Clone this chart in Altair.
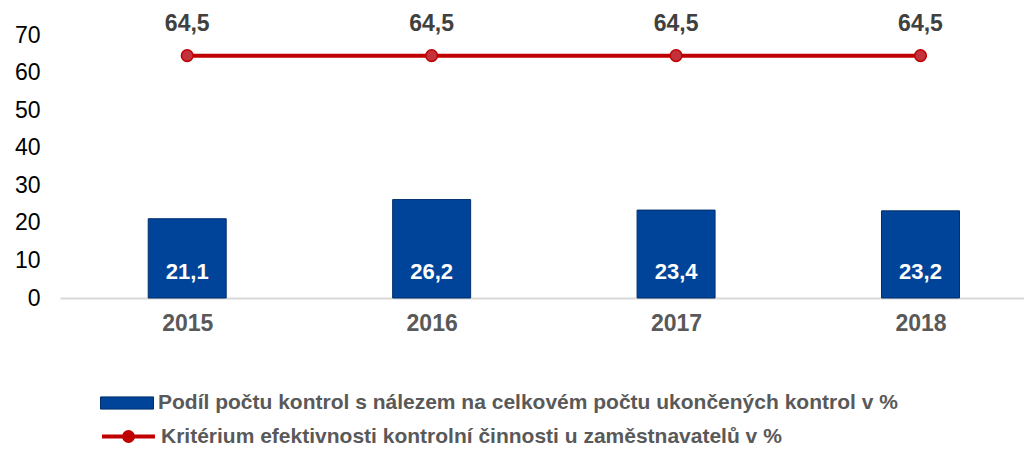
import altair as alt
import pandas as pd

years = [2015, 2016, 2017, 2018]
share = [21.1, 26.2, 23.4, 23.2]
criterion = [64.5, 64.5, 64.5, 64.5]
bar_label = "Podíl počtu kontrol s nálezem na celkovém počtu ukončených kontrol v %"
line_label = "Kritérium efektivnosti kontrolní činnosti u zaměstnavatelů v %"
y_ticks = [0, 10, 20, 30, 40, 50, 60, 70]

df = pd.DataFrame({"year": years, "share": share, "crit": criterion,
                   "s1": bar_label, "s2": line_label})

FONT = "Liberation Sans"
BLUE = "#00449A"
RED = "#C00000"

xscale = alt.Scale(domain=[2014.5, 2018.403], nice=False, zero=False)
xaxis = alt.Axis(values=years, format="d", title=None, grid=False, ticks=False,
                 domainColor="#D9D9D9", domainWidth=2, labelFontSize=23,
                 labelFontWeight="bold", labelColor="#595959", labelPadding=14,
                 labelOverlap=False, labelFlush=False, labelFont=FONT)
yscale = alt.Scale(domain=[0, 70], nice=False)
yaxis = alt.Axis(values=y_ticks, title=None, grid=False, ticks=False, domain=False,
                 labelFontSize=23, labelColor="#000000", labelPadding=20,
                 labelFont=FONT, minExtent=52, maxExtent=52)

X = alt.X("year:Q", scale=xscale, axis=xaxis)

bars = alt.Chart(df).mark_bar(size=78, stroke="#002F6C", strokeWidth=1).encode(
    x=X,
    y=alt.Y("share:Q", scale=yscale, axis=yaxis),
    fill=alt.Fill("s1:N", scale=alt.Scale(domain=[bar_label], range=[BLUE]),
                  legend=alt.Legend(title=None, orient="none", legendX=40, legendY=341,
                                    symbolType="M-1,-0.23H1V0.23H-1Z", symbolSize=2809,
                                    symbolStrokeColor="#002F6C", symbolStrokeWidth=1,
                                    labelFontSize=21, labelFontWeight="bold",
                                    labelColor="#595959", labelFont=FONT, labelLimit=0,
                                    labelOffset=4, padding=0)),
)

bar_text = alt.Chart(df).transform_calculate(
    lbl="replace(format(datum.share, '.1f'), '.', ',')"
).mark_text(fontSize=22, fontWeight="bold", color="white", font=FONT,
            baseline="middle", dy=-26).encode(
    x=X,
    y=alt.Y(datum=0, scale=yscale, axis=yaxis),
    text="lbl:N",
)

line = alt.Chart(df).mark_line(strokeWidth=4).encode(
    x=X,
    y=alt.Y("crit:Q", scale=yscale, axis=yaxis),
    stroke=alt.Stroke("s2:N", scale=alt.Scale(domain=[line_label], range=[RED]),
                      legend=alt.Legend(title=None, orient="none", legendX=40, legendY=373,
                                        symbolType="M-1,0H1M-0.17,0A0.17,0.17 0 1,1 0.17,0A0.17,0.17 0 1,1 -0.17,0Z",
                                        symbolSize=2809, symbolStrokeWidth=4,
                                        symbolFillColor=RED,
                                        labelFontSize=21, labelFontWeight="bold",
                                        labelColor="#595959", labelFont=FONT, labelLimit=0,
                                        labelOffset=4, padding=0)),
)

points = alt.Chart(df).mark_point(filled=True, size=135, fill="#C3313C", stroke=RED,
                                  strokeWidth=1.5, opacity=1).encode(
    x=X,
    y=alt.Y("crit:Q", scale=yscale, axis=yaxis),
)

line_text = alt.Chart(df).transform_calculate(
    lbl="replace(format(datum.crit, '.1f'), '.', ',')"
).mark_text(fontSize=23, fontWeight="bold", color="#404040", font=FONT,
            baseline="middle", dy=-32).encode(
    x=X,
    y=alt.Y("crit:Q", scale=yscale, axis=yaxis),
    text="lbl:N",
)

chart = alt.layer(bars, bar_text, line, points, line_text).properties(
    width=964, height=263,
    padding={"left": 52, "top": 27, "right": 0, "bottom": 148},
    autosize=alt.AutoSizeParams(type="none"),
).configure(font=FONT).configure_view(stroke=None)

chart.save("out.html", embed_options={"renderer": "svg", "actions": False})
